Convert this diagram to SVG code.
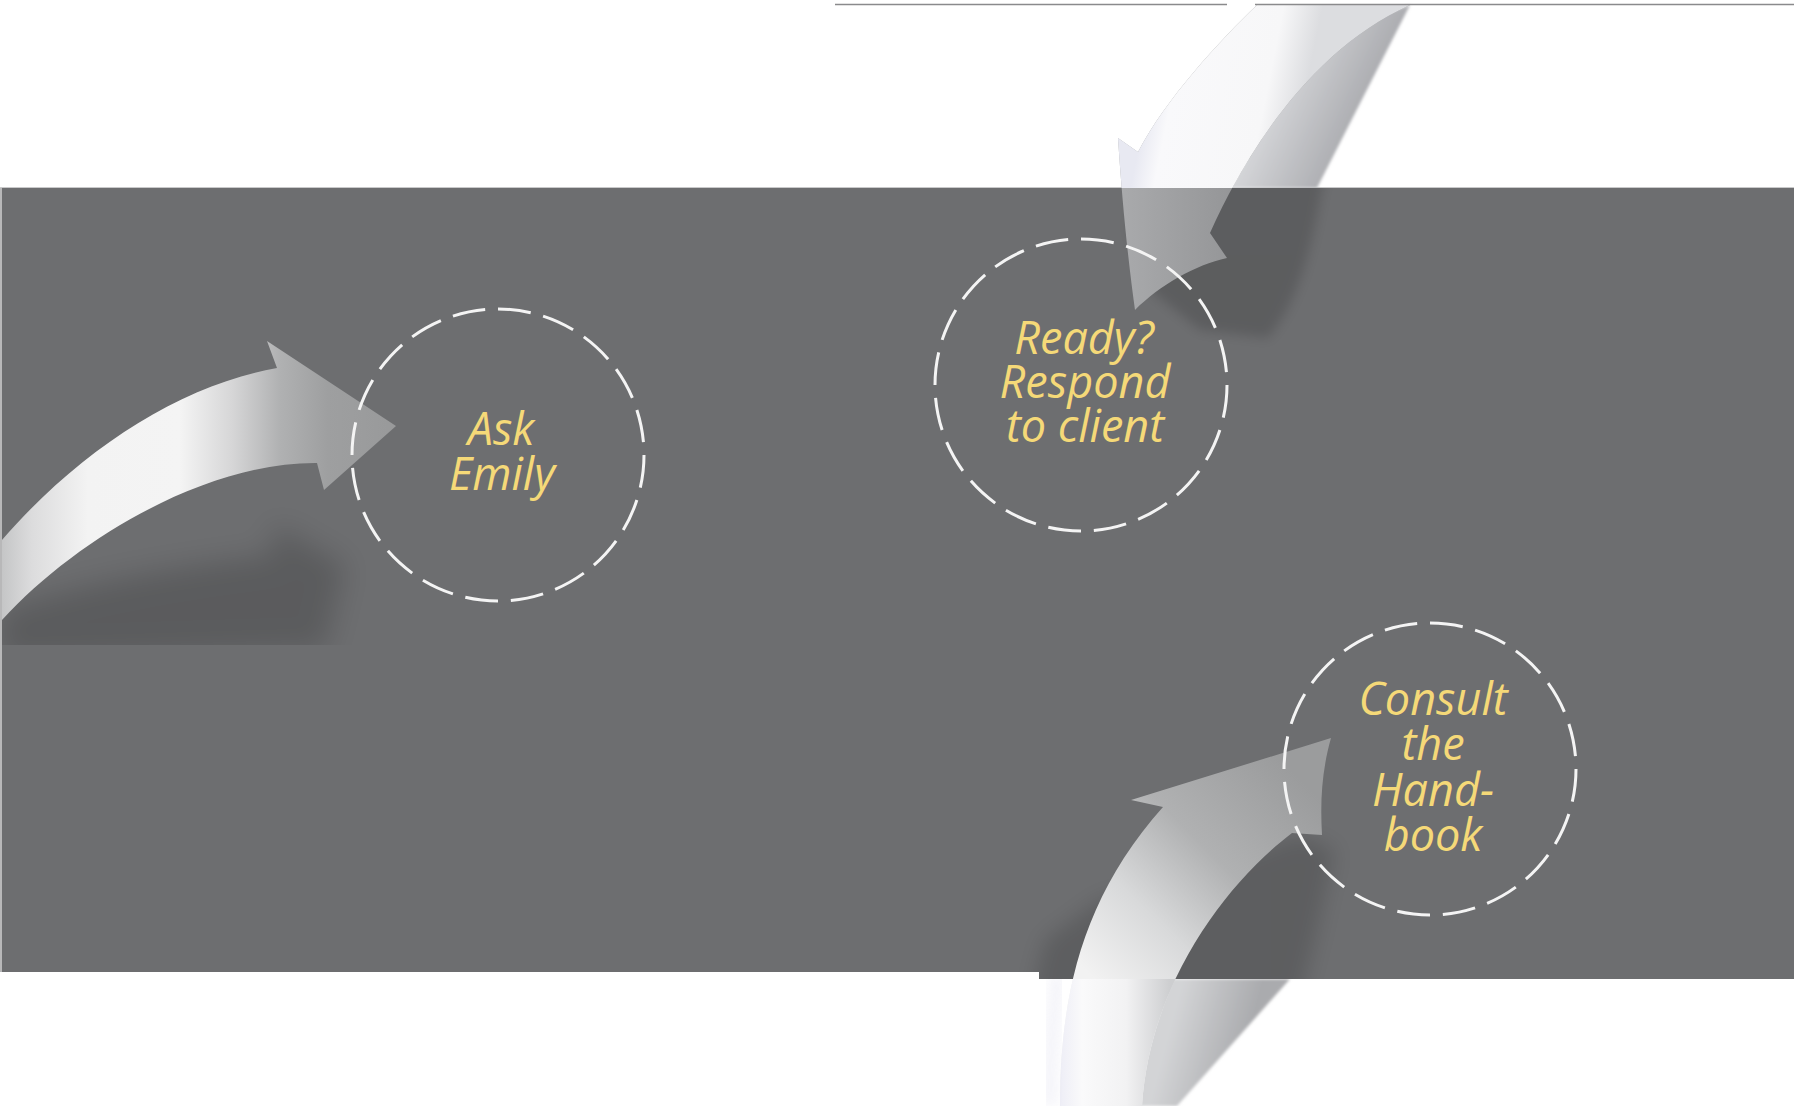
<svg xmlns="http://www.w3.org/2000/svg" width="1794" height="1106" viewBox="0 0 1794 1106">
<defs>
<style>
.ring{fill:none;stroke:#f4f4f4;stroke-width:3;stroke-dasharray:33 12.85}
.lbl{font-family:"Open Sans","Noto Sans","DejaVu Sans",sans-serif;font-style:italic;font-weight:500;font-size:45px;fill:#f5d978;text-anchor:middle}
.topline{stroke:#8a8a8c;stroke-width:1.5}
</style>
<clipPath id="cBand"><path d="M2,188 H1794 V979 H1039 V972 H2 Z"/></clipPath>
<clipPath id="cTop"><rect x="0" y="0" width="1794" height="188"/></clipPath>
<clipPath id="cBottom"><rect x="1039" y="979" width="755" height="127"/></clipPath>
<clipPath id="cAskShadow"><rect x="2" y="188" width="800" height="457"/></clipPath>
<filter id="blurHuge" x="-50%" y="-50%" width="200%" height="200%"><feGaussianBlur stdDeviation="14"/></filter>
<filter id="blurBig" x="-50%" y="-50%" width="200%" height="200%"><feGaussianBlur stdDeviation="10"/></filter>
<filter id="blurMid" x="-50%" y="-50%" width="200%" height="200%"><feGaussianBlur stdDeviation="6"/></filter>
<filter id="blurSmall" x="-20%" y="-20%" width="140%" height="140%"><feGaussianBlur stdDeviation="1.5"/></filter>
<linearGradient id="gAsk" gradientUnits="userSpaceOnUse" x1="0" y1="0" x2="400" y2="0">
<stop offset="0" stop-color="#c3c4c5"/>
<stop offset="0.08" stop-color="#dcdcdd"/>
<stop offset="0.22" stop-color="#f3f3f3"/>
<stop offset="0.45" stop-color="#f4f4f4"/>
<stop offset="0.58" stop-color="#d6d6d7"/>
<stop offset="0.7" stop-color="#b0b1b2"/>
<stop offset="0.82" stop-color="#9e9fa0"/>
<stop offset="1" stop-color="#98999a"/>
</linearGradient>
<linearGradient id="gReadyBand" gradientUnits="userSpaceOnUse" x1="1120" y1="0" x2="1230" y2="0">
<stop offset="0" stop-color="#a9aaac"/>
<stop offset="1" stop-color="#959698"/>
</linearGradient>
<linearGradient id="gReadyWhite" gradientUnits="userSpaceOnUse" x1="1150" y1="90" x2="1300" y2="120">
<stop offset="0" stop-color="#e8e9f2"/>
<stop offset="0.15" stop-color="#f9f9fb"/>
<stop offset="0.75" stop-color="#f7f7f8"/>
<stop offset="1" stop-color="#dcdde0"/>
</linearGradient>
<linearGradient id="gReadyFold" gradientUnits="userSpaceOnUse" x1="1365" y1="100" x2="1290" y2="65">
<stop offset="0" stop-color="#acadb1"/>
<stop offset="1" stop-color="#d4d5d8"/>
</linearGradient>
<linearGradient id="gConsBand" gradientUnits="userSpaceOnUse" x1="1090" y1="975" x2="1290" y2="770">
<stop offset="0" stop-color="#f2f2f2"/>
<stop offset="0.3" stop-color="#d8d9da"/>
<stop offset="0.6" stop-color="#b0b1b2"/>
<stop offset="1" stop-color="#9b9c9d"/>
</linearGradient>
<linearGradient id="gConsWhite" gradientUnits="userSpaceOnUse" x1="1060" y1="0" x2="1170" y2="0">
<stop offset="0" stop-color="#eeeef6"/>
<stop offset="0.2" stop-color="#fafafb"/>
<stop offset="0.6" stop-color="#f2f2f3"/>
<stop offset="1" stop-color="#cdced0"/>
</linearGradient>
<linearGradient id="gConsFold" gradientUnits="userSpaceOnUse" x1="1250" y1="1030" x2="1175" y2="1010">
<stop offset="0" stop-color="#aaabae"/>
<stop offset="1" stop-color="#d3d4d6"/>
</linearGradient>
</defs>

<rect x="0" y="0" width="1794" height="1106" fill="#ffffff"/>
<g id="band">
<rect x="2" y="188" width="1792" height="791" fill="#6d6e70"/>
<line x1="0" y1="187.5" x2="1794" y2="187.5" stroke="#c9c9ca" stroke-width="1"/>
<line x1="1" y1="188" x2="1" y2="972" stroke="#b8b8b9" stroke-width="2"/>
<rect x="0" y="972" width="1039" height="134" fill="#ffffff"/>
</g>

<g id="connectors">
<g id="arrow-ask">
<path d="M0,610 C90,580 190,565 272,555 L275,525 L345,565 L325,650 L0,660 Z" fill="#000" opacity="0.16" filter="url(#blurHuge)" clip-path="url(#cAskShadow)"/>
<path d="M2,540 C80,450 180,385 277,368 L267,341 L396,426 L324,490 L317,463 C210,462 80,535 2,620 Z" fill="url(#gAsk)"/>
</g>
<g id="arrow-ready">
<path d="M1410,5 L1317,188 L1190,188 L1245,60 Z" fill="url(#gReadyFold)" filter="url(#blurSmall)" clip-path="url(#cTop)"/>
<path d="M1345,130 L1322,188 C1312,245 1300,300 1268,338 L1200,330 L1150,290 L1130,230 L1140,130 Z" fill="#000" opacity="0.15" filter="url(#blurMid)" clip-path="url(#cBand)"/>
<path d="M1257,5 C1220,40 1165,100 1138,152 L1118,138 C1122,200 1128,260 1135,310 C1160,285 1195,265 1227,258 L1210,233 C1245,155 1310,50 1410,5 Z" fill="url(#gReadyBand)"/>
<path d="M1257,5 C1220,40 1165,100 1138,152 L1118,138 C1122,200 1128,260 1135,310 C1160,285 1195,265 1227,258 L1210,233 C1245,155 1310,50 1410,5 Z" fill="url(#gReadyWhite)" clip-path="url(#cTop)"/>
</g>
<g id="arrow-consult">
<path d="M1150,979 L1290,979 L1177,1106 L1120,1106 Z" fill="url(#gConsFold)" filter="url(#blurSmall)" clip-path="url(#cBottom)"/>
<path d="M1300,835 L1335,850 L1315,940 L1300,1000 L1030,1000 L1045,940 L1100,900 L1180,880 Z" fill="#000" opacity="0.14" filter="url(#blurBig)" clip-path="url(#cBand)"/>
<path d="M1060,1106 C1060,1000 1080,900 1163,807 L1131,800 L1331,738 C1322,770 1320,800 1322,835 L1292,833 C1230,880 1150,980 1142,1106 Z" fill="url(#gConsBand)"/>
<path d="M1060,1106 C1060,1000 1080,900 1163,807 L1131,800 L1331,738 C1322,770 1320,800 1322,835 L1292,833 C1230,880 1150,980 1142,1106 Z" fill="url(#gConsWhite)" clip-path="url(#cBottom)"/>
<path d="M1058,975 C1052,1020 1050,1060 1050,1106" fill="none" stroke="#e6e6f2" stroke-width="16" opacity="0.4" filter="url(#blurMid)" clip-path="url(#cBottom)"/>
</g>
</g>

<line class="topline" x1="835" y1="4.5" x2="1227" y2="4.5"/>
<line class="topline" x1="1255" y1="4.5" x2="1794" y2="4.5"/>

<g id="node-ask">
<circle class="ring" cx="498" cy="455" r="146"/>
<text class="lbl"><tspan x="501" y="445">Ask</tspan><tspan x="502" y="490">Emily</tspan></text>
</g>
<g id="node-ready">
<circle class="ring" cx="1081" cy="385" r="146"/>
<text class="lbl"><tspan x="1084" y="354">Ready?</tspan><tspan x="1085" y="398">Respond</tspan><tspan x="1085" y="442">to client</tspan></text>
</g>
<g id="node-consult">
<circle class="ring" cx="1430" cy="769" r="146"/>
<text class="lbl"><tspan x="1433" y="715">Consult</tspan><tspan x="1433" y="760">the</tspan><tspan x="1433" y="806">Hand-</tspan><tspan x="1433" y="851">book</tspan></text>
</g>
</svg>
